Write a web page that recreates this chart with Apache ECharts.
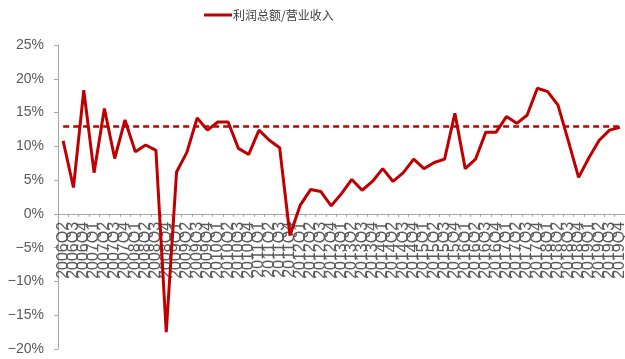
<!DOCTYPE html>
<html>
<head>
<meta charset="utf-8">
<script src="https://cdn.jsdelivr.net/npm/echarts@6/dist/echarts.min.js"></script>
<style>
html,body{margin:0;padding:0;background:#fff;}
#main{width:625px;height:359px;}
</style>
</head>
<body>
<div id="main"></div>
<script>
// Categories: quarters 2006Q2 .. 2019Q4
const categories = [
  '2006Q2','2006Q3','2006Q4',
  '2007Q1','2007Q2','2007Q3','2007Q4',
  '2008Q1','2008Q2','2008Q3','2008Q4',
  '2009Q1','2009Q2','2009Q3','2009Q4',
  '2010Q1','2010Q2','2010Q3','2010Q4',
  '2011Q1','2011Q2','2011Q3','2011Q4',
  '2012Q1','2012Q2','2012Q3','2012Q4',
  '2013Q1','2013Q2','2013Q3','2013Q4',
  '2014Q1','2014Q2','2014Q3','2014Q4',
  '2015Q1','2015Q2','2015Q3','2015Q4',
  '2016Q1','2016Q2','2016Q3','2016Q4',
  '2017Q1','2017Q2','2017Q3','2017Q4',
  '2018Q1','2018Q2','2018Q3','2018Q4',
  '2019Q1','2019Q2','2019Q3','2019Q4'
];
// 利润总额/营业收入 (%)
const profitRatio = [
  10.8, 3.9, 18.3,
  6.1, 15.6, 8.2, 13.9,
  9.2, 10.2, 9.4, -17.5,
  6.2, 9.1, 14.2, 12.4,
  13.6, 13.6, 9.7, 8.8,
  12.4, 10.9, 9.8, -3.2,
  1.3, 3.6, 3.3, 1.2,
  3.0, 5.1, 3.5, 4.8,
  6.7, 4.8, 6.1, 8.1,
  6.7, 7.6, 8.1, 14.9,
  6.7, 8.1, 12.1, 12.1,
  14.4, 13.4, 14.6, 18.6,
  18.1, 16.1, 10.8, 5.4,
  8.3, 10.9, 12.4, 12.8
];
// Reference (average) level shown as dashed line (%)
const averageLevel = 12.9;
const yTicks = { min: -20, max: 25, interval: 5 };

const chart = echarts.init(document.getElementById('main'), null, {renderer: 'canvas'});
const axisGray = '#a6a6a6';
const gridTop = 45, gridBottom = 10, chartH = 359;
// place the category axis at the zero line
const plotH = chartH - gridTop - gridBottom;
const zeroOffset = -plotH * (0 - yTicks.min) / (yTicks.max - yTicks.min);

chart.setOption({
  animation: false,
  backgroundColor: '#ffffff',
  legend: {
    top: 9,
    left: 204,
    padding: 0,
    icon: 'rect',
    itemWidth: 28,
    itemHeight: 3,
    itemGap: 4,
    textStyle: { fontFamily: '"Noto Sans CJK SC", sans-serif', fontSize: 12, color: '#404040', padding: [0, 0, 0, -4] },
    data: ['利润总额/营业收入']
  },
  grid: { left: 58, right: 0, top: gridTop, bottom: gridBottom, containLabel: false, outerBoundsMode: 'none' },
  xAxis: {
    type: 'category',
    data: categories,
    boundaryGap: true,
    position: 'bottom',
    offset: zeroOffset,
    axisLine: { onZero: false, lineStyle: { color: axisGray, width: 1 } },
    axisTick: { show: true, interval: 0, length: 3, lineStyle: { color: axisGray } },
    axisLabel: {
      interval: 0,
      rotate: 90,
      margin: 8,
      fontSize: 16,
      fontFamily: '"Liberation Sans", Arial, sans-serif',
      color: '#5a5a5a',
      hideOverlap: false
    },
    splitLine: { show: false }
  },
  yAxis: {
    type: 'value',
    min: yTicks.min,
    max: yTicks.max,
    interval: yTicks.interval,
    axisLine: { show: true, lineStyle: { color: axisGray, width: 1 } },
    axisTick: { show: true, length: 4, lineStyle: { color: axisGray } },
    splitLine: { show: false },
    axisLabel: {
      margin: 14,
      fontSize: 14,
      fontFamily: '"Liberation Sans", Arial, sans-serif',
      color: '#595959',
      formatter: function (v) { return (v < 0 ? '\u2212' + Math.abs(v) : v) + '%'; }
    }
  },
  series: [{
    name: '利润总额/营业收入',
    type: 'line',
    data: profitRatio,
    symbol: 'none',
    showSymbol: false,
    smooth: false,
    z: 5,
    lineStyle: { color: '#c00000', width: 3 },
    itemStyle: { color: '#c00000' },
    markLine: {
      silent: true,
      symbol: ['none', 'none'],
      label: { show: false },
      lineStyle: { color: '#c00000', width: 2.5, type: [6, 4] },
      data: [[
        { coord: [categories[0], averageLevel] },
        { coord: [categories[categories.length - 1], averageLevel] }
      ]]
    }
  }]
});
</script>
</body>
</html>
